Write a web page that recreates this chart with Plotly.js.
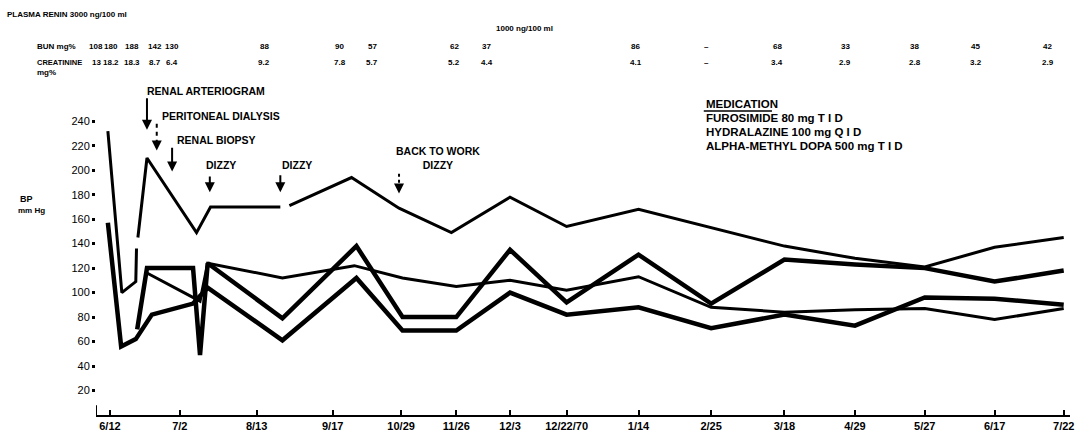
<!DOCTYPE html>
<html>
<head>
<meta charset="utf-8">
<script src="https://cdn.plot.ly/plotly-3.0.1.min.js"></script>
<style>
  html, body { margin: 0; padding: 0; background: #fff; }
  #chart { width: 1086px; height: 434px; }
</style>
</head>
<body>
<div id="chart"></div>
<script>
// Visit dates along the time axis (spacing follows the charted visit sheet)
const tickDates = ['6/12', '7/2', '8/13', '9/17', '10/29', '11/26', '12/3', '12/22/70',
                   '1/14', '2/25', '3/18', '4/29', '5/27', '6/17', '7/22'];
const tickPos = [0, 1.0, 2.1, 3.19, 4.17, 4.96, 5.73, 6.54, 7.57, 8.61, 9.66, 10.67, 11.67, 12.67, 13.66];

// Blood pressure tracings, mm Hg (null = break in the pen line)
const sysX = [-0.03, 0.17, 0.37, 0.38, null, 0.40, 0.53, 1.24, 1.44, 2.44, null, 2.57, 3.46, 4.14, 4.89,
              5.73, 6.54, 7.57, 8.61, 9.66, 10.67, 11.67, 12.67, 13.66];
const sysY = [232, 100, 109, 136, null, 145, 210, 149, 170, 170, null, 171, 194, 169, 149,
              178, 154, 168, 153, 138, 128, 121, 137, 145];

const upperX = [0.39, 0.53, 1.19, 1.29, 1.40, 2.47, 3.53, 4.19, 4.96, 5.73, 6.54, 7.57, 8.61, 9.66,
                10.67, 11.67, 12.67, 13.66];
const upperY = [70, 120, 120, 49, 124, 79, 138, 80, 80, 135, 92, 131, 91, 127, 123, 120, 109, 118];

const middleX = [0.53, 1.29, 1.40, 2.47, 3.50, 4.19, 4.96, 5.73, 6.54, 7.57, 8.61, 9.66, 10.67, 11.67,
                 12.67, 13.66];
const middleY = [116, 93, 124, 112, 122, 112, 105, 110, 102, 113, 88, 84, 86, 87, 78, 87];

const lowerX = [-0.03, 0.16, 0.37, 0.60, 1.19, 1.40, 2.47, 3.53, 4.19, 4.96, 5.73, 6.54, 7.57, 8.61,
                9.66, 10.67, 11.67, 12.67, 13.66];
const lowerY = [157, 56, 62, 82, 91, 104, 61, 112, 69, 69, 100, 82, 88, 71, 82, 73, 96, 95, 90];

// Laboratory values written above the chart
const bunLabels = ['108', '180', '188', '142', '130', '88', '90', '57', '62', '37',
                   '86', '\u2013', '68', '33', '38', '45', '42'];
const creatLabels = ['13', '18.2', '18.3', '8.7', '6.4', '9.2', '7.8', '5.7', '5.2', '4.4',
                     '4.1', '\u2013', '3.4', '2.9', '2.8', '3.2', '2.9'];
const labPos = [-0.2, 0.02, 0.32, 0.64, 0.89, 2.21, 3.29, 3.76, 4.93, 5.4,
                7.53, 8.54, 9.56, 10.53, 11.53, 12.4, 13.43];

// Clinical events
const eventText = ['RENAL ARTERIOGRAM', 'PERITONEAL DIALYSIS', 'RENAL BIOPSY', 'DIZZY', 'DIZZY', 'BACK TO WORK<br>DIZZY'];

const medication = ['FUROSIMIDE 80 mg T I D', 'HYDRALAZINE 100 mg Q I D', 'ALPHA-METHYL DOPA 500 mg T I D'];

const FONT = 'Liberation Sans, Arial, sans-serif';
const ink = '#000';
const xRange = [-0.2, 13.75];
const yRange = [0, 250];

function line(x, y, w) {
  return { x: x, y: y, type: 'scatter', mode: 'lines', connectgaps: false,
           line: { color: ink, width: w, shape: 'linear' }, hoverinfo: 'skip', showlegend: false };
}

const traces = [
  line(sysX, sysY, 3),
  line(upperX, upperY, 4.5),
  line(middleX, middleY, 3),
  line(lowerX, lowerY, 4.5)
];

// paper helpers: text above/left of the plotting area is placed in paper units
const plotTop = 109, plotBottom = 415, plotH = plotBottom - plotTop;
const py = Y => (plotBottom - Y) / plotH;
const px = u => (u - xRange[0]) / (xRange[1] - xRange[0]);
const pv = v => (v - yRange[0]) / (yRange[1] - yRange[0]);

const ann = [];
function txt(o, size) {
  ann.push(Object.assign({ showarrow: false, xref: 'paper', yref: 'paper', yanchor: 'middle',
    font: { family: FONT, size: size || 10.5, color: ink, weight: 'bold' } }, o));
}

txt({ x: -0.093, y: py(14), xanchor: 'left', text: 'PLASMA RENIN 3000 ng/100 ml' }, 8);
txt({ x: px(5.93), y: py(28), xanchor: 'center', text: '1000 ng/100 ml' }, 8);
txt({ x: -0.063, y: py(46), xanchor: 'left', text: 'BUN mg%' }, 8);
txt({ x: -0.063, y: py(62), xanchor: 'left', text: 'CREATININE' }, 7.5);
txt({ x: -0.063, y: py(72), xanchor: 'left', text: 'mg%' }, 8);
bunLabels.forEach((t, i) => txt({ x: px(labPos[i]), y: py(46), xanchor: 'center', text: t }, 8));
creatLabels.forEach((t, i) => txt({ x: px(labPos[i]), y: py(62), xanchor: 'center', text: t }, 8));

// Event labels
txt({ x: px(0.50), y: py(91), xanchor: 'left', text: eventText[0] });
txt({ x: px(0.71), y: pv(244), xanchor: 'left', text: eventText[1] });
txt({ x: px(0.93), y: pv(225), xanchor: 'left', text: eventText[2] });
txt({ x: px(1.34), y: pv(204), xanchor: 'left', text: eventText[3] });
txt({ x: px(2.43), y: pv(204), xanchor: 'left', text: eventText[4] });
txt({ x: px(4.07), y: pv(210), xanchor: 'left', text: eventText[5] });

// Event arrows
function arrow(x, yTail, yHead) {
  ann.push({ x: x, y: yHead, ax: x, ay: yTail, axref: 'x', ayref: 'y', xref: 'x', yref: 'y',
             showarrow: true, arrowhead: 2, arrowsize: 1, arrowwidth: 2, arrowcolor: ink, text: '' });
}
arrow(0.53, 260, 233);
arrow(0.89, 219.5, 199);
arrow(1.43, 196, 182);
arrow(2.44, 197, 182);
// dashed shafts get short heads
ann.push({ x: 0.67, y: 216, ax: 0, ay: -5, xref: 'x', yref: 'y', showarrow: true, arrowhead: 2,
           arrowsize: 1, arrowwidth: 2, arrowcolor: ink, text: '' });
ann.push({ x: 4.14, y: 181, ax: 0, ay: -6, xref: 'x', yref: 'y', showarrow: true, arrowhead: 2,
           arrowsize: 1, arrowwidth: 2, arrowcolor: ink, text: '' });

// Medication block
txt({ x: 0.624, y: py(104), xanchor: 'left', text: 'MEDICATION' }, 11.5);
medication.forEach((t, i) => txt({ x: 0.624, y: py(118 + 14 * i), xanchor: 'left', text: t }, 11.5));

// Axis title
txt({ x: -0.080, y: py(199), xanchor: 'left', text: 'BP' }, 9);
txt({ x: -0.082, y: py(210), xanchor: 'left', text: 'mm Hg' }, 8);

const shapes = [
  // medication underline
  { type: 'line', xref: 'paper', yref: 'paper', x0: 0.624, x1: 0.694, y0: py(111), y1: py(111),
    line: { color: ink, width: 1.5 } },
  // dashed arrow shafts
  { type: 'line', xref: 'x', yref: 'y', x0: 0.67, x1: 0.67, y0: 238, y1: 221, line: { color: ink, width: 2, dash: '4px,4px' } },
  { type: 'line', xref: 'x', yref: 'y', x0: 4.14, x1: 4.14, y0: 197, y1: 187, line: { color: ink, width: 2, dash: '3px,3px' } },
  // corner of the axes
  { type: 'line', xref: 'x', yref: 'y', x0: -0.2, x1: -0.2, y0: 0, y1: 8, line: { color: ink, width: 2 } }
];

const layout = {
  width: 1086, height: 434,
  margin: { l: 96, r: 16, t: plotTop, b: 434 - plotBottom, pad: 0 },
  paper_bgcolor: '#fff', plot_bgcolor: '#fff',
  showlegend: false,
  font: { family: FONT, color: ink },
  xaxis: {
    range: xRange, tickmode: 'array', tickvals: tickPos, ticktext: tickDates,
    showgrid: false, zeroline: false, showline: true, linecolor: ink, linewidth: 2,
    ticks: 'inside', ticklen: 5, tickwidth: 2, tickcolor: ink,
    tickfont: { family: FONT, size: 11, color: ink, weight: 'bold' }
  },
  yaxis: {
    range: yRange, tickmode: 'array', tickvals: [20, 40, 60, 80, 100, 120, 140, 160, 180, 200, 220, 240],
    showgrid: false, zeroline: false, showline: false,
    ticks: 'outside', ticklen: 3, tickwidth: 3, tickcolor: ink,
    tickfont: { family: FONT, size: 11, color: ink }
  },
  annotations: ann,
  shapes: shapes
};

Plotly.newPlot('chart', traces, layout, { staticPlot: true, displayModeBar: false });
</script>
</body>
</html>
